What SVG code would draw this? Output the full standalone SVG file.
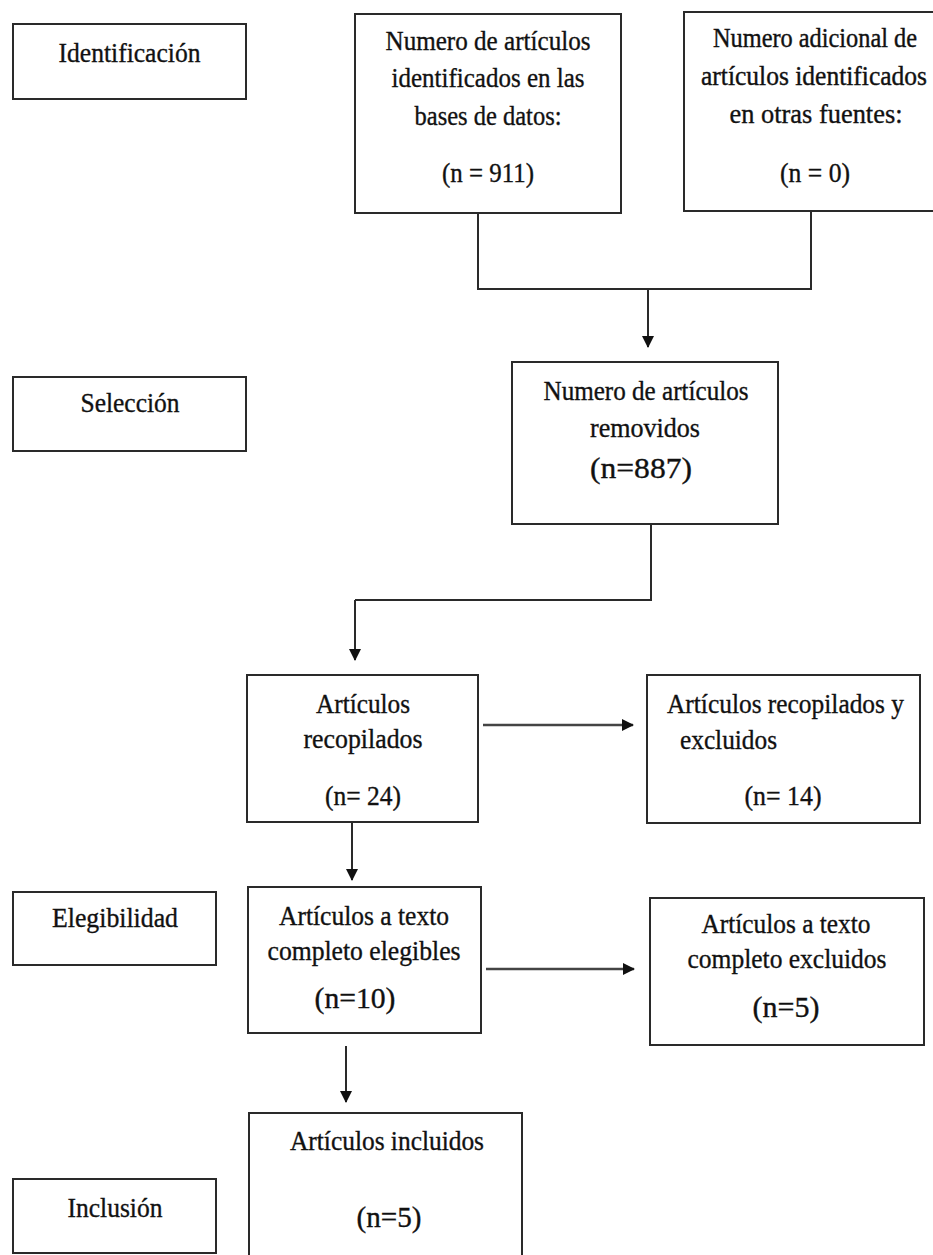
<svg xmlns="http://www.w3.org/2000/svg" width="933" height="1255" viewBox="0 0 933 1255">
<style>
.box{fill:#fff;stroke:#2a2a2a;stroke-width:2}
.t{font-family:"Liberation Serif","Times New Roman",serif;font-size:27px;fill:#111;stroke:#111;stroke-width:0.35;text-anchor:middle}
.ts{text-anchor:start}
.big{font-size:30px}
.sm{font-size:23.5px}
.c{fill:none;stroke:#2a2a2a;stroke-width:2}
.ca{fill:none;stroke:#444;stroke-width:2.6}
</style>
<defs>
<marker id="ah" viewBox="0 0 12 12" refX="11" refY="6" markerWidth="12" markerHeight="12" markerUnits="userSpaceOnUse" orient="auto">
<path d="M0,0 L12,6 L0,12 Z" fill="#111"/>
</marker>
</defs>
<rect width="933" height="1255" fill="#fff"/>

<g id="connectors">
<polyline class="c" points="478,213 478,289 811,289 811,211"/>
<line class="c" x1="648" y1="289" x2="648" y2="347" marker-end="url(#ah)"/>
<polyline class="c" points="651,524 651,600 355,600"/>
<line class="c" x1="355" y1="600" x2="355" y2="660" marker-end="url(#ah)"/>
<line class="ca" x1="483" y1="725" x2="633" y2="725" marker-end="url(#ah)"/>
<line class="c" x1="352" y1="822" x2="352" y2="880" marker-end="url(#ah)"/>
<line class="ca" x1="486" y1="969" x2="634" y2="969" marker-end="url(#ah)"/>
<line class="c" x1="346" y1="1046" x2="346" y2="1102" marker-end="url(#ah)"/>
</g>

<g id="identificacion">
<rect class="box" x="13" y="24" width="233" height="75"/>
<text class="t" x="129.5" y="62" textLength="142" lengthAdjust="spacingAndGlyphs">Identificación</text>
</g>

<g id="bases-datos">
<rect class="box" x="355" y="14" width="266" height="199"/>
<text class="t" x="488" y="50" textLength="205" lengthAdjust="spacingAndGlyphs">Numero de artículos</text>
<text class="t" x="488" y="87" textLength="193" lengthAdjust="spacingAndGlyphs">identificados en las</text>
<text class="t" x="488" y="125" textLength="147" lengthAdjust="spacingAndGlyphs">bases de datos:</text>
<text class="t" x="488" y="182" textLength="92" lengthAdjust="spacingAndGlyphs">(n = 911)</text>
</g>

<g id="otras-fuentes">
<rect class="box" x="684" y="12" width="262" height="199"/>
<text class="t sm" transform="translate(815 47) scale(1 1.13)" x="0" y="0" textLength="204" lengthAdjust="spacingAndGlyphs">Numero adicional de</text>
<text class="t sm" transform="translate(814 85) scale(1 1.13)" x="0" y="0" textLength="226" lengthAdjust="spacingAndGlyphs">artículos identificados</text>
<text class="t" x="816" y="123" textLength="173" lengthAdjust="spacingAndGlyphs">en otras fuentes:</text>
<text class="t" x="815" y="182" textLength="70" lengthAdjust="spacingAndGlyphs">(n = 0)</text>
</g>

<g id="seleccion">
<rect class="box" x="13" y="377" width="233" height="74"/>
<text class="t" x="130" y="412" textLength="99" lengthAdjust="spacingAndGlyphs">Selección</text>
</g>

<g id="removidos">
<rect class="box" x="512" y="362" width="266" height="162"/>
<text class="t" x="646" y="400" textLength="205" lengthAdjust="spacingAndGlyphs">Numero de artículos</text>
<text class="t" x="645" y="437" textLength="110" lengthAdjust="spacingAndGlyphs">removidos</text>
<text class="t big" x="641" y="478" textLength="102" lengthAdjust="spacingAndGlyphs">(n=887)</text>
</g>

<g id="recopilados">
<rect class="box" x="247" y="675" width="231" height="147"/>
<text class="t" x="363" y="713" textLength="94" lengthAdjust="spacingAndGlyphs">Artículos</text>
<text class="t" x="363" y="748" textLength="119" lengthAdjust="spacingAndGlyphs">recopilados</text>
<text class="t" x="363" y="805" textLength="76" lengthAdjust="spacingAndGlyphs">(n= 24)</text>
</g>

<g id="recopilados-excluidos">
<rect class="box" x="647" y="675" width="273" height="148"/>
<text class="t ts" x="667" y="713" textLength="237" lengthAdjust="spacingAndGlyphs">Artículos recopilados y</text>
<text class="t ts" x="680" y="749" textLength="97" lengthAdjust="spacingAndGlyphs">excluidos</text>
<text class="t" x="783" y="805" textLength="77" lengthAdjust="spacingAndGlyphs">(n= 14)</text>
</g>

<g id="elegibilidad">
<rect class="box" x="13" y="892" width="203" height="73"/>
<text class="t" x="115" y="927" textLength="126" lengthAdjust="spacingAndGlyphs">Elegibilidad</text>
</g>

<g id="elegibles">
<rect class="box" x="248" y="887" width="233" height="146"/>
<text class="t" x="364" y="925" textLength="170" lengthAdjust="spacingAndGlyphs">Artículos a texto</text>
<text class="t" x="364" y="960" textLength="193" lengthAdjust="spacingAndGlyphs">completo elegibles</text>
<text class="t big" x="355" y="1008" textLength="81" lengthAdjust="spacingAndGlyphs">(n=10)</text>
</g>

<g id="texto-excluidos">
<rect class="box" x="650" y="898" width="274" height="147"/>
<text class="t" x="786" y="933" textLength="169" lengthAdjust="spacingAndGlyphs">Artículos a texto</text>
<text class="t" x="787" y="968" textLength="199" lengthAdjust="spacingAndGlyphs">completo excluidos</text>
<text class="t big" x="786" y="1017" textLength="67" lengthAdjust="spacingAndGlyphs">(n=5)</text>
</g>

<g id="incluidos">
<rect class="box" x="249" y="1113" width="273" height="155"/>
<text class="t" x="387" y="1150" textLength="194" lengthAdjust="spacingAndGlyphs">Artículos incluidos</text>
<text class="t big" x="389" y="1227" textLength="65" lengthAdjust="spacingAndGlyphs">(n=5)</text>
</g>

<g id="inclusion">
<rect class="box" x="13" y="1179" width="203" height="74"/>
<text class="t" x="115" y="1217" textLength="95" lengthAdjust="spacingAndGlyphs">Inclusión</text>
</g>
</svg>
